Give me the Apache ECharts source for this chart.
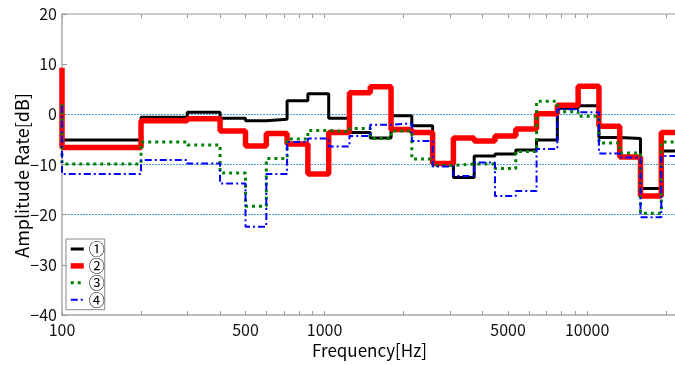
<!DOCTYPE html>
<html>
<head>
<meta charset="utf-8">
<script src="https://cdn.jsdelivr.net/npm/echarts@6/dist/echarts.min.js"></script>
<style>
  html, body { margin: 0; padding: 0; background: #fff; }
  #chart { width: 675px; height: 365px; }
</style>
</head>
<body>
<div id="chart"></div>
<script>
// band edges [Hz]; each band runs from one edge to the next
const bandEdges = [100, 200, 300, 400, 500, 600, 720, 864, 1037, 1244, 1493, 1792, 2150,
  2580, 3096, 3715, 4458, 5350, 6420, 7704, 9245, 11094, 13313, 15975, 19170, 23004];

// x tick marks and labels
const xTickValues = [100, 200, 300, 400, 500, 600, 700, 800, 900, 1000, 2000, 3000, 4000,
  5000, 6000, 7000, 8000, 9000, 10000, 20000];
const xLabelValues = [100, 500, 1000, 5000, 10000];

const seriesNames = ['①', '②', '③', '④'];

// value at 100 Hz (first point before the first band)
const startValues = [-5.1, 9.3, 2.0, 1.7];

// band values [dB]
const curve1 = [-5.1, -0.6, 0.4, -0.8, -1.3, -1.0, 2.7, 4.1, -0.8, -3.6, -4.7, -0.3, -2.3,
  -9.9, -12.6, -8.3, -7.9, -7.1, -5.1, 1.2, 1.7, -4.6, -4.8, -14.8, -7.3];
const curve2 = [-6.6, -1.3, -0.9, -3.3, -6.3, -3.8, -5.9, -11.9, -3.6, 4.3, 5.5, -3.0, -3.6,
  -9.8, -4.7, -5.3, -4.3, -2.9, 0.1, 1.8, 5.6, -2.4, -8.5, -16.3, -3.6];
const curve3 = [-9.9, -5.5, -6.1, -11.7, -18.3, -8.8, -4.9, -3.2, -3.5, -2.8, -4.8, -3.3, -8.9,
  -10.2, -9.9, -9.9, -10.8, -7.4, 2.6, 0.5, -0.4, -5.7, -7.7, -19.7, -5.5];
const curve4 = [-11.9, -9.1, -9.8, -13.8, -22.4, -11.9, -5.5, -4.8, -6.4, -4.3, -2.1, -1.8, -5.3,
  -10.4, -12.3, -9.6, -16.3, -15.3, -6.9, 1.0, 0.4, -7.8, -8.6, -20.5, -8.3];

const xMin = 100;
const xMax = 22000;
const font = "'Noto Sans CJK JP', 'Noto Sans', sans-serif";

function stepData(start, vals) {
  const pts = [[bandEdges[0], start]];
  vals.forEach((v, i) => pts.push([bandEdges[i], v]));
  pts.push([bandEdges[bandEdges.length - 1], vals[vals.length - 1]]);
  return pts;
}

const lg = (v) => Math.log10(v);

const lineStyles = [
  { color: '#000000', width: 3, type: 'solid' },
  { color: '#ff0000', width: 5.5, type: 'solid' },
  { color: '#008000', width: 3, type: [3, 4] },
  { color: '#0000ff', width: 2, type: [7, 3, 2, 3] },
];
const curves = [curve1, curve2, curve3, curve4];

const option = {
  backgroundColor: '#fff',
  animation: false,
  textStyle: { fontFamily: font },
  grid: { left: 62, right: -2, top: 14, bottom: 50, containLabel: false, outerBoundsMode: 'none' },
  legend: {
    data: seriesNames.map((name, i) => ({
      name: name,
      lineStyle: { width: lineStyles[i].width, type: lineStyles[i].type, color: lineStyles[i].color },
    })),
    orient: 'vertical',
    left: 66,
    top: 239,
    itemWidth: 13,
    itemHeight: 14,
    itemGap: 0.9,
    padding: [2, 0, 2, 2],
    borderColor: '#888',
    borderWidth: 1,
    itemStyle: { color: 'rgba(0,0,0,0)', borderWidth: 0, opacity: 0 },
    textStyle: { fontSize: 16, color: '#000', fontFamily: font, lineHeight: 16 },
  },
  xAxis: [
    {
      // data axis
      type: 'log',
      logBase: 10,
      min: xMin,
      max: xMax,
      position: 'bottom',
      name: 'Frequency[Hz]',
      nameLocation: 'middle',
      nameGap: 27,
      nameTextStyle: { fontSize: 17, color: '#000', fontFamily: font },
      axisLine: { show: true, onZero: false, lineStyle: { color: '#bbb', width: 2 } },
      axisTick: { show: false },
      axisLabel: { show: false },
      splitLine: { show: false },
      minorTick: { show: false },
    },
    {
      // tick / label axis on the same log positions
      type: 'value',
      min: lg(xMin),
      max: lg(xMax),
      position: 'bottom',
      axisLine: { show: false, onZero: false },
      axisTick: {
        show: true,
        inside: true,
        length: 4,
        customValues: xTickValues.map(lg),
        lineStyle: { color: '#999' },
      },
      axisLabel: {
        show: true,
        customValues: xLabelValues.map(lg),
        formatter: (v) => String(Math.round(Math.pow(10, v))),
        fontSize: 16,
        color: '#111',
        margin: 7,
        fontFamily: font,
      },
      splitLine: { show: false },
    },
    {
      type: 'value',
      min: lg(xMin),
      max: lg(xMax),
      position: 'top',
      axisLine: { show: true, onZero: false, lineStyle: { color: '#bbb', width: 1.5 } },
      axisTick: {
        show: true,
        inside: true,
        length: 4,
        customValues: xTickValues.map(lg),
        lineStyle: { color: '#999' },
      },
      axisLabel: { show: false },
      splitLine: { show: false },
    },
  ],
  yAxis: {
    type: 'value',
    min: -40,
    max: 20,
    interval: 10,
    name: 'Amplitude Rate[dB]',
    nameLocation: 'middle',
    nameGap: 31,
    nameMoveOverlap: false,
    nameTextStyle: { fontSize: 18, color: '#000', fontFamily: font, padding: [0, 22, 0, 0] },
    axisLine: { show: true, lineStyle: { color: '#aaa', width: 1.5 } },
    axisTick: { show: true, inside: true, length: 5, lineStyle: { color: '#999' } },
    axisLabel: {
      fontSize: 16,
      color: '#111',
      margin: 5,
      fontFamily: font,
      formatter: (v) => String(v).replace('-', '\u2212'),
    },
    splitLine: {
      show: true,
      lineStyle: {
        color: ['transparent', 'transparent', '#4a9ad8', '#4a9ad8', '#4a9ad8', 'transparent', 'transparent'],
        width: 1,
        type: [2, 1],
      },
    },
  },
  series: seriesNames.map((name, i) => ({
    name: name,
    type: 'line',
    xAxisIndex: 0,
    step: 'end',
    symbol: 'none',
    showSymbol: false,
    lineStyle: lineStyles[i],
    itemStyle: { color: lineStyles[i].color },
    data: stepData(startValues[i], curves[i]),
  })),
};

const chart = echarts.init(document.getElementById('chart'));
chart.setOption(option);
</script>
</body>
</html>
